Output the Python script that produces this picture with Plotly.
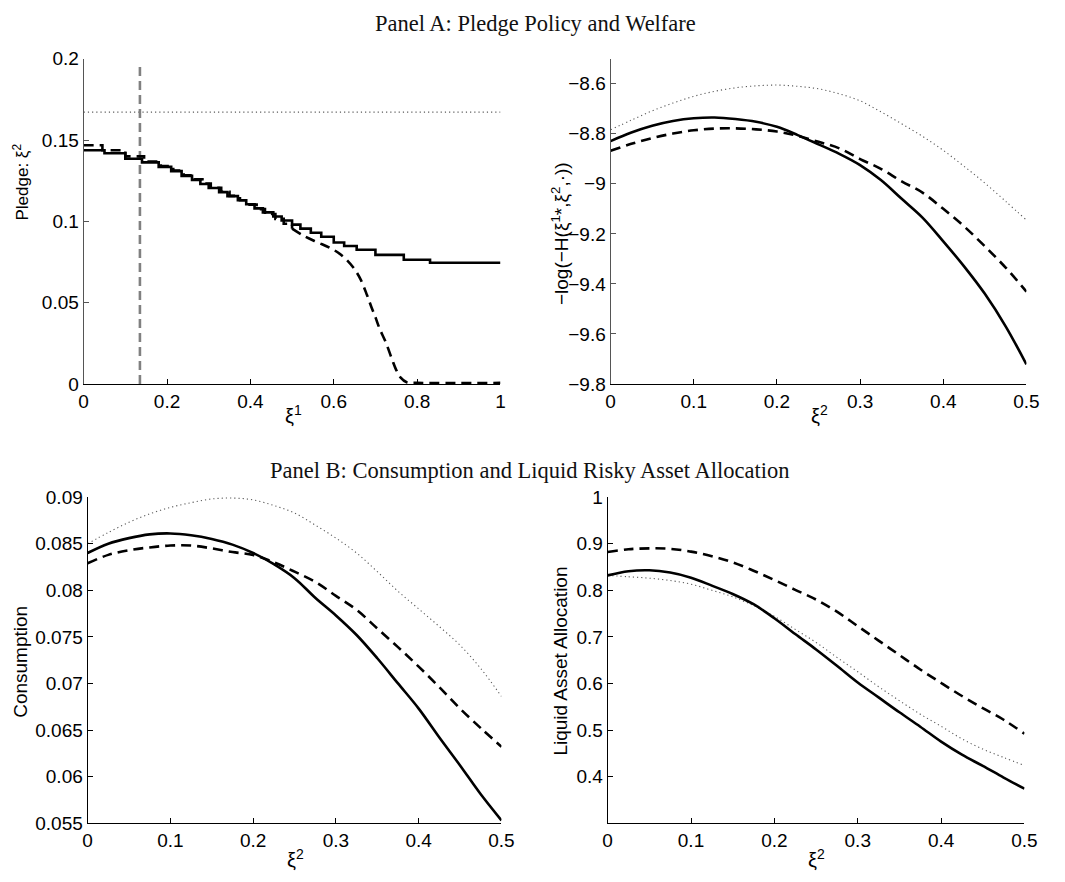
import plotly.graph_objects as go

# ---------------- data ----------------
# Panel A left: pledge policy vs xi1 (step functions)
pledge_solid_x = [0, 0.05, 0.10, 0.14, 0.18, 0.21, 0.235, 0.26, 0.28, 0.30, 0.325, 0.345, 0.37,
                  0.39, 0.41, 0.43, 0.455, 0.475, 0.50, 0.52, 0.545, 0.57, 0.60, 0.625, 0.655,
                  0.70, 0.768, 0.831, 1.0]
pledge_solid_y = [0.1437, 0.1419, 0.1385, 0.1363, 0.1335, 0.1309, 0.1280, 0.1255, 0.1230, 0.1205,
                  0.1180, 0.1155, 0.1130, 0.1105, 0.1080, 0.1055, 0.1030, 0.1005, 0.0980, 0.0955,
                  0.0930, 0.0905, 0.0870, 0.0848, 0.0825, 0.0794, 0.0764, 0.0745, 0.0745]
pledge_dash_step_x = [0, 0.045, 0.10, 0.145, 0.185, 0.215, 0.24, 0.265, 0.285, 0.305, 0.33, 0.35,
                      0.375, 0.395, 0.415, 0.435, 0.46, 0.48, 0.50]
pledge_dash_step_y = [0.1468, 0.1437, 0.1400, 0.1368, 0.1340, 0.1312, 0.1284, 0.1258, 0.1232,
                      0.1207, 0.1182, 0.1157, 0.1130, 0.1103, 0.1075, 0.1045, 0.1015, 0.0985, 0.0955]
pledge_dash_smooth_x = [0.50, 0.53, 0.56, 0.59, 0.61, 0.63, 0.65, 0.665, 0.68, 0.69, 0.70, 0.71,
                        0.725, 0.74, 0.75, 0.76, 0.775, 0.80, 1.0]
pledge_dash_smooth_y = [0.0955, 0.0908, 0.0872, 0.0838, 0.0808, 0.0765, 0.0705, 0.0640, 0.0545,
                        0.0475, 0.0410, 0.0340, 0.0255, 0.0150, 0.0085, 0.0040, 0.0010, 0.0006,
                        0.0006]
xi1_star = 0.135
xi1_star_top = 0.197
pledge_first_best = 0.1672

# common grid of xi2
xi2 = [0, 0.025, 0.05, 0.075, 0.1, 0.125, 0.15, 0.175, 0.2, 0.225, 0.25, 0.275, 0.3, 0.325,
       0.35, 0.375, 0.4, 0.425, 0.45, 0.475, 0.5]

# Panel A right: welfare
welfare_solid = [-8.829, -8.795, -8.768, -8.749, -8.738, -8.735, -8.741, -8.752, -8.772, -8.805,
                 -8.842, -8.880, -8.925, -8.985, -9.060, -9.135, -9.230, -9.330, -9.440, -9.570,
                 -9.722]
welfare_dash = [-8.868, -8.840, -8.817, -8.799, -8.786, -8.779, -8.778, -8.782, -8.791, -8.808,
                -8.832, -8.858, -8.901, -8.940, -8.990, -9.035, -9.100, -9.170, -9.250, -9.335,
                -9.431]
welfare_dot = [-8.784, -8.745, -8.708, -8.677, -8.650, -8.630, -8.616, -8.608, -8.605, -8.610,
               -8.620, -8.640, -8.668, -8.712, -8.760, -8.810, -8.866, -8.930, -8.997, -9.070,
               -9.145]

# Panel B left: consumption
cons_solid = [0.0840, 0.0850, 0.0856, 0.0860, 0.0861, 0.0859, 0.0855, 0.0849, 0.0840, 0.0828,
              0.0813, 0.0792, 0.0773, 0.0752, 0.0727, 0.0700, 0.0673, 0.0642, 0.0612, 0.0581,
              0.0553]
cons_dash = [0.0829, 0.0838, 0.0843, 0.0846, 0.0848, 0.0848, 0.0845, 0.0841, 0.0838, 0.0830,
             0.0820, 0.0809, 0.0794, 0.0779, 0.0759, 0.0739, 0.0718, 0.0696, 0.0673, 0.0652,
             0.0632]
cons_dot = [0.0850, 0.0862, 0.0873, 0.0882, 0.0889, 0.0894, 0.0898, 0.0899, 0.0897, 0.0891,
            0.0883, 0.0870, 0.0856, 0.0840, 0.0820, 0.0799, 0.0780, 0.0761, 0.0741, 0.0716,
            0.0686]

# Panel B right: liquid asset allocation
alloc_solid = [0.832, 0.841, 0.843, 0.838, 0.827, 0.810, 0.792, 0.770, 0.740, 0.706, 0.673,
               0.638, 0.602, 0.570, 0.538, 0.507, 0.475, 0.447, 0.423, 0.398, 0.374]
alloc_dash = [0.882, 0.888, 0.890, 0.889, 0.883, 0.873, 0.860, 0.842, 0.822, 0.801, 0.780,
              0.754, 0.723, 0.692, 0.661, 0.630, 0.601, 0.573, 0.547, 0.522, 0.492]
alloc_dot = [0.832, 0.829, 0.826, 0.821, 0.813, 0.800, 0.786, 0.767, 0.744, 0.716, 0.688,
             0.656, 0.625, 0.593, 0.563, 0.534, 0.508, 0.481, 0.459, 0.441, 0.424]

# tick labels
ticks_pledge = [0, 0.05, 0.1, 0.15, 0.2]
ticks_xi1 = [0, 0.2, 0.4, 0.6, 0.8, 1]
ticks_xi2 = [0, 0.1, 0.2, 0.3, 0.4, 0.5]
ticks_welfare = [-9.8, -9.6, -9.4, -9.2, -9, -8.8, -8.6]
ticks_cons = [0.055, 0.06, 0.065, 0.07, 0.075, 0.08, 0.085, 0.09]
ticks_alloc = [0.4, 0.5, 0.6, 0.7, 0.8, 0.9, 1]

# ---------------- figure ----------------
W, H = 1065, 882
BLACK = "#000000"
GRAY = "#808080"
DOTGRAY = "#5a5a5a"
SOLID = dict(color=BLACK, width=2.6)
DASH = dict(color=BLACK, width=2.6, dash="10px,6px")
DOT = dict(color=DOTGRAY, width=1.1, dash="1.2px,3px")

fig = go.Figure()

def add(x, y, line, ax, shape="linear"):
    fig.add_trace(go.Scatter(x=x, y=y, mode="lines", line=dict(shape=shape, **line),
                             xaxis="x" + ax, yaxis="y" + ax, showlegend=False,
                             hoverinfo="skip"))

# top-left
add([0, 1], [pledge_first_best, pledge_first_best], DOT, "")
add([xi1_star, xi1_star], [0, xi1_star_top], dict(color=GRAY, width=2.6, dash="9px,5px"), "")
add(pledge_dash_step_x, pledge_dash_step_y, DASH, "", shape="hv")
add(pledge_dash_smooth_x, pledge_dash_smooth_y, DASH, "", shape="spline")
add(pledge_solid_x, pledge_solid_y, SOLID, "", shape="hv")

# top-right
add(xi2, welfare_dot, DOT, "2", shape="spline")
add(xi2, welfare_dash, DASH, "2", shape="spline")
add(xi2, welfare_solid, SOLID, "2", shape="spline")

# bottom-left
add(xi2, cons_dot, DOT, "3", shape="spline")
add(xi2, cons_dash, DASH, "3", shape="spline")
add(xi2, cons_solid, SOLID, "3", shape="spline")

# bottom-right
add(xi2, alloc_dot, DOT, "4", shape="spline")
add(xi2, alloc_dash, DASH, "4", shape="spline")
add(xi2, alloc_solid, SOLID, "4", shape="spline")

def px_x(a, b):
    return [a / W, b / W]

def px_y(top, bottom):
    return [1 - bottom / H, 1 - top / H]

TICKFONT = dict(family="Liberation Sans, Arial, sans-serif", size=19, color="black")

def axis(domain, rng, tickvals, anchor, linecolor=BLACK):
    return dict(domain=domain, range=rng, tickvals=tickvals, anchor=anchor,
                showline=True, linecolor=linecolor, linewidth=1, mirror=False,
                ticks="inside", ticklen=5, tickcolor=linecolor, tickwidth=1,
                showgrid=False, zeroline=False, tickfont=TICKFONT, fixedrange=True)

top_y = px_y(50, 383)
bot_y = px_y(499, 833)

fig.update_layout(
    width=W, height=H, margin=dict(l=0, r=0, t=0, b=0),
    paper_bgcolor="white", plot_bgcolor="white",
    xaxis=axis(px_x(80, 504), [0, 1], ticks_xi1, "y"),
    yaxis=axis(top_y, [0, 0.2], ticks_pledge, "x", linecolor="#555555"),
    xaxis2=axis(px_x(616, 1039), [0, 0.5], ticks_xi2, "y2"),
    yaxis2=axis(top_y, [-9.8, -8.5], ticks_welfare, "x2", linecolor="#555555"),
    xaxis3=axis(px_x(84, 505), [0, 0.5], ticks_xi2, "y3"),
    yaxis3=axis(bot_y, [0.055, 0.09], ticks_cons, "x3"),
    xaxis4=axis(px_x(613, 1037), [0, 0.5], ticks_xi2, "y4"),
    yaxis4=axis(bot_y, [0.3, 1.0], ticks_alloc, "x4"),
)

LABELFONT = dict(family="Liberation Sans, Arial, sans-serif", size=19, color="black")
XIFONT = dict(family="Liberation Sans, Arial, sans-serif", size=20, color="black")
SERIF = dict(family="Liberation Serif, Times New Roman, serif", size=22.5, color="#111111")

def ann(text, x, y, font, angle=0):
    fig.add_annotation(text=text, x=x / W, y=1 - y / H, xref="paper", yref="paper",
                       showarrow=False, xanchor="center", yanchor="middle",
                       textangle=angle, font=font)

ann("Panel A: Pledge Policy and Welfare", 540, 14, SERIF)
ann("Panel B: Consumption and Liquid Risky Asset Allocation", 534, 472, SERIF)

ann("Pledge: ξ<sup>2</sup>", 16, 176, dict(LABELFONT, size=17), angle=-90)
ann("−log(−H(ξ<sup>1</sup>*,ξ<sup>2</sup>,·))", 564, 229, LABELFONT, angle=-90)
ann("Consumption", 15, 668, LABELFONT, angle=-90)
ann("Liquid Asset Allocation", 565, 667, LABELFONT, angle=-90)

ann("ξ<sup>1</sup>", 293, 414, XIFONT)
ann("ξ<sup>2</sup>", 828, 414, XIFONT)
ann("ξ<sup>2</sup>", 295, 869, XIFONT)
ann("ξ<sup>2</sup>", 825, 869, XIFONT)

fig.write_html("out.html")
